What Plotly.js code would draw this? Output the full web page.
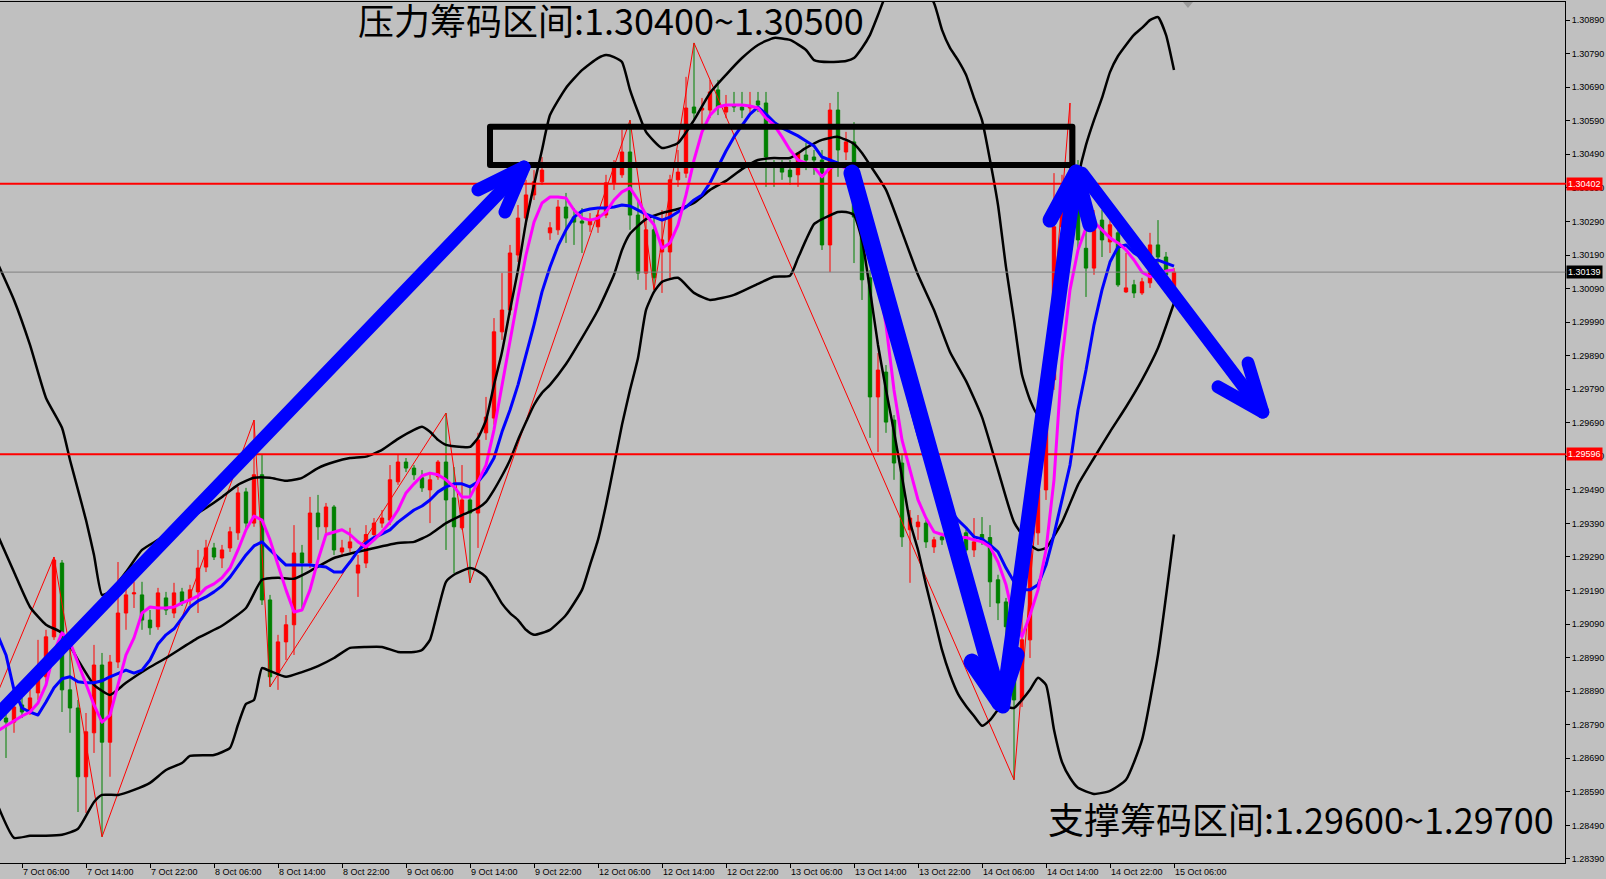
<!DOCTYPE html>
<html>
<head>
<meta charset="utf-8">
<script src="https://cdn.plot.ly/plotly-3.0.1.min.js"></script>
<style>
  html, body { margin: 0; padding: 0; background: #c0c0c0; }
  #chart { width: 1606px; height: 879px; }
  .shapelayer path { stroke-linejoin: round; stroke-linecap: round; }
  .scatterlayer .js-line { stroke-linejoin: round; }
</style>
</head>
<body>
<div id="chart"></div>
<script>
// ---- GBPUSD H1 candles (bar 0 = 7 Oct 04:00, bar 146 = 15 Oct 06:00) ----
const openP = [
1.28810,1.28798,1.28849,1.28834,1.28885,1.28933,1.29052,1.29272,1.28894,1.28840,
1.28635,1.28766,1.28968,1.28738,1.28977,1.29123,1.29180,1.29177,1.29102,1.29082,
1.29168,1.29123,1.29186,1.29162,1.29186,1.29260,1.29317,1.29287,1.29317,1.29362,
1.29484,1.29391,1.29535,1.29162,1.28944,1.29037,1.29088,1.29302,1.29272,1.29421,
1.29380,1.29439,1.29305,1.29317,1.29242,1.29272,1.29357,1.29391,1.29400,1.29514,
1.29573,1.29555,1.29526,1.29490,1.29529,1.29573,1.29466,1.29377,1.29460,1.29421,
1.29660,1.29704,1.29961,1.30026,1.30190,1.30300,1.30369,1.30408,1.30256,1.30265,
1.30333,1.30303,1.30291,1.30280,1.30274,1.30309,1.30405,1.30429,1.30497,1.30309,
1.30136,1.30265,1.30199,1.30199,1.30414,1.30434,1.30631,1.30622,1.30622,1.30682,
1.30616,1.30637,1.30631,1.30628,1.30649,1.30643,1.30464,1.30450,1.30443,1.30429,
1.30488,1.30482,1.30473,1.30220,1.30622,1.30497,1.30527,1.30303,1.30122,1.29767,
1.29841,1.29698,1.29570,1.29371,1.29380,1.29391,1.29320,1.29350,1.29348,1.29332,
1.29362,1.29311,1.29357,1.29348,1.29222,1.29156,1.29082,1.28864,1.29043,1.29362,
1.29490,1.29818,1.30274,1.30354,1.30414,1.30210,1.30151,1.30294,1.30229,1.30256,
1.30080,1.30101,1.30077,1.30107,1.30220,1.30184,1.30095];
const highP = [
1.28825,1.28864,1.28870,1.28894,1.29043,1.29073,1.29290,1.29281,1.29022,1.28864,
1.28825,1.29028,1.29004,1.28998,1.29275,1.29198,1.29216,1.29216,1.29132,1.29198,
1.29186,1.29213,1.29198,1.29207,1.29311,1.29341,1.29332,1.29326,1.29380,1.29499,
1.29496,1.29698,1.29594,1.29177,1.29058,1.29117,1.29385,1.29326,1.29469,1.29475,
1.29451,1.29445,1.29341,1.29377,1.29296,1.29385,1.29406,1.29430,1.29564,1.29594,
1.29585,1.29564,1.29549,1.29543,1.29579,1.29719,1.29558,1.29564,1.29505,1.29660,
1.29767,1.30002,1.30136,1.30220,1.30339,1.30414,1.30443,1.30482,1.30288,1.30354,
1.30375,1.30330,1.30330,1.30315,1.30324,1.30429,1.30473,1.30563,1.30592,1.30354,
1.30309,1.30309,1.30324,1.30429,1.30503,1.30721,1.30822,1.30658,1.30712,1.30712,
1.30667,1.30676,1.30676,1.30676,1.30676,1.30676,1.30473,1.30473,1.30473,1.30473,
1.30524,1.30503,1.30503,1.30643,1.30676,1.30557,1.30586,1.30339,1.30145,1.29898,
1.29862,1.29713,1.29594,1.29430,1.29415,1.29400,1.29350,1.29362,1.29357,1.29357,
1.29371,1.29406,1.29409,1.29385,1.29237,1.29168,1.29102,1.29153,1.29400,1.29505,
1.29833,1.30434,1.30429,1.30643,1.30473,1.30324,1.30324,1.30324,1.30294,1.30280,
1.30196,1.30116,1.30122,1.30256,1.30294,1.30199,1.30151];
const lowP = [
1.28691,1.28766,1.28810,1.28819,1.28864,1.28918,1.29043,1.28828,1.28766,1.28530,
1.28527,1.28706,1.28456,1.28635,1.28959,1.29073,1.29138,1.29073,1.29058,1.29073,
1.29117,1.29108,1.29144,1.29147,1.29123,1.29245,1.29281,1.29257,1.29305,1.29341,
1.29371,1.29380,1.29147,1.28903,1.28894,1.28983,1.28998,1.29132,1.29257,1.29341,
1.29357,1.29296,1.29290,1.29305,1.29171,1.29257,1.29341,1.29377,1.29385,1.29505,
1.29543,1.29520,1.29484,1.29391,1.29520,1.29311,1.29242,1.29371,1.29213,1.29317,
1.29639,1.29684,1.29937,1.30011,1.30169,1.30280,1.30354,1.30399,1.30235,1.30250,
1.30226,1.30220,1.30196,1.30259,1.30256,1.30300,1.30384,1.30420,1.30265,1.30116,
1.30086,1.30086,1.30077,1.30116,1.30393,1.30420,1.30592,1.30578,1.30598,1.30607,
1.30598,1.30616,1.30598,1.30607,1.30616,1.30393,1.30393,1.30414,1.30399,1.30393,
1.30443,1.30429,1.30205,1.30139,1.30423,1.30473,1.30166,1.30056,1.29645,1.29603,
1.29660,1.29520,1.29320,1.29213,1.29341,1.29317,1.29302,1.29326,1.29326,1.29317,
1.29305,1.29290,1.29326,1.29141,1.29102,1.29043,1.28626,1.28843,1.28989,1.29326,
1.29460,1.29788,1.30250,1.30309,1.30205,1.30065,1.30131,1.30184,1.30196,1.30095,
1.30077,1.30062,1.30071,1.30092,1.30125,1.30116,1.30086];
const closeP = [
1.28798,1.28843,1.28828,1.28870,1.28933,1.29052,1.29281,1.28894,1.28840,1.28635,
1.28769,1.28968,1.28738,1.28977,1.29123,1.29177,1.29183,1.29102,1.29079,1.29183,
1.29132,1.29183,1.29153,1.29192,1.29257,1.29317,1.29290,1.29311,1.29365,1.29481,
1.29391,1.29535,1.29162,1.28933,1.29037,1.29088,1.29302,1.29272,1.29421,1.29380,
1.29439,1.29311,1.29317,1.29335,1.29266,1.29357,1.29391,1.29406,1.29520,1.29573,
1.29555,1.29535,1.29496,1.29520,1.29573,1.29460,1.29380,1.29460,1.29421,1.29639,
1.29707,1.29961,1.30026,1.30196,1.30300,1.30369,1.30408,1.30443,1.30271,1.30333,
1.30300,1.30288,1.30285,1.30291,1.30309,1.30405,1.30452,1.30497,1.30309,1.30136,
1.30265,1.30122,1.30235,1.30414,1.30437,1.30628,1.30613,1.30628,1.30676,1.30631,
1.30631,1.30631,1.30622,1.30634,1.30637,1.30482,1.30455,1.30437,1.30423,1.30494,
1.30473,1.30473,1.30220,1.30622,1.30503,1.30527,1.30303,1.30116,1.29767,1.29847,
1.29692,1.29570,1.29350,1.29406,1.29394,1.29335,1.29341,1.29341,1.29338,1.29341,
1.29311,1.29335,1.29341,1.29216,1.29153,1.29082,1.28864,1.29043,1.29362,1.29490,
1.29818,1.30274,1.30354,1.30414,1.30235,1.30151,1.30288,1.30235,1.30280,1.30101,
1.30092,1.30077,1.30110,1.30220,1.30184,1.30131,1.30139];

// ---- moving averages, one value per bar from bar -1 to bar 146 ----
const maFast = [
1.28772,1.28787,1.28801,1.28816,1.28828,1.28855,1.28909,1.29007,1.29064,1.29037,
1.28974,1.28909,1.28849,1.28798,1.28819,1.28909,1.28998,1.29049,1.29123,1.29141,
1.29138,1.29138,1.29141,1.29153,1.29162,1.29174,1.29198,1.29210,1.29228,1.29257,
1.29311,1.29371,1.29412,1.29400,1.29341,1.29266,1.29192,1.29126,1.29132,1.29192,
1.29281,1.29357,1.29365,1.29371,1.29357,1.29335,1.29320,1.29341,1.29365,1.29394,
1.29430,1.29481,1.29508,1.29532,1.29540,1.29535,1.29520,1.29499,1.29469,1.29469,
1.29514,1.29564,1.29669,1.29803,1.29937,1.30065,1.30190,1.30288,1.30345,1.30363,
1.30363,1.30360,1.30324,1.30300,1.30294,1.30300,1.30318,1.30354,1.30378,1.30390,
1.30354,1.30309,1.30280,1.30210,1.30226,1.30280,1.30369,1.30473,1.30557,1.30607,
1.30631,1.30637,1.30637,1.30637,1.30634,1.30628,1.30598,1.30578,1.30542,1.30503,
1.30473,1.30464,1.30452,1.30423,1.30450,1.30458,1.30450,1.30414,1.30324,1.30220,
1.30116,1.29982,1.29788,1.29639,1.29549,1.29460,1.29406,1.29365,1.29357,1.29350,
1.29348,1.29348,1.29341,1.29335,1.29320,1.29275,1.29207,1.29102,1.29052,1.29117,
1.29192,1.29311,1.29520,1.29877,1.30086,1.30205,1.30271,1.30288,1.30265,1.30241,
1.30226,1.30205,1.30175,1.30139,1.30125,1.30131,1.30142,1.30145];
const maSlow = [
1.29055,1.28998,1.28894,1.28840,1.28828,1.28819,1.28858,1.28900,1.28927,1.28933,
1.28918,1.28915,1.28915,1.28921,1.28933,1.28944,1.28953,1.28944,1.28953,1.28983,
1.29031,1.29058,1.29076,1.29108,1.29141,1.29159,1.29171,1.29186,1.29204,1.29230,
1.29263,1.29296,1.29323,1.29335,1.29311,1.29287,1.29266,1.29266,1.29266,1.29266,
1.29263,1.29260,1.29245,1.29245,1.29275,1.29308,1.29332,1.29348,1.29359,1.29371,
1.29394,1.29412,1.29430,1.29442,1.29460,1.29484,1.29499,1.29508,1.29508,1.29499,
1.29514,1.29543,1.29585,1.29663,1.29728,1.29803,1.29892,1.29982,1.30080,1.30154,
1.30217,1.30265,1.30303,1.30321,1.30327,1.30330,1.30330,1.30333,1.30339,1.30336,
1.30324,1.30312,1.30303,1.30294,1.30303,1.30318,1.30333,1.30354,1.30369,1.30405,
1.30452,1.30500,1.30542,1.30578,1.30610,1.30631,1.30610,1.30586,1.30569,1.30557,
1.30545,1.30530,1.30515,1.30482,1.30473,1.30464,1.30450,1.30420,1.30369,1.30294,
1.30205,1.30086,1.29967,1.29847,1.29743,1.29654,1.29579,1.29520,1.29469,1.29430,
1.29400,1.29377,1.29350,1.29344,1.29326,1.29305,1.29257,1.29216,1.29192,1.29192,
1.29207,1.29266,1.29357,1.29460,1.29564,1.29728,1.29847,1.29982,1.30086,1.30169,
1.30214,1.30220,1.30196,1.30181,1.30169,1.30175,1.30166,1.30157];

// ---- Bollinger bands (read at the listed bars) ----
const bbMidBars = [-1,1,3,5,7,9,11,13,15,18,20,24,27,30,32,34,36,38,41,45,49,51,53,55,57,59,60,61,62,63,64,65,66,67,68,70,72,74,76,77,78,80,82,84,86,88,90,92,94,96,98,100,102,104,106,107,108,110,112,114,116,118,120,122,124,126,128,129,130,132,134,136,138,140,142,144,146];
const bbMid = [1.29353,1.29245,1.29141,1.29088,1.29064,1.28983,1.28909,1.28879,1.28915,1.28962,1.28989,1.29049,1.29085,1.29138,1.29222,1.29228,1.29225,1.29248,1.29287,1.29311,1.29332,1.29335,1.29357,1.29391,1.29415,1.29436,1.29454,1.29490,1.29532,1.29579,1.29639,1.29692,1.29743,1.29779,1.29803,1.29865,1.29943,1.30026,1.30131,1.30205,1.30253,1.30297,1.30315,1.30327,1.30345,1.30384,1.30411,1.30446,1.30473,1.30479,1.30479,1.30509,1.30533,1.30542,1.30521,1.30494,1.30458,1.30384,1.30259,1.30131,1.30026,1.29901,1.29815,1.29707,1.29549,1.29394,1.29326,1.29311,1.29317,1.29394,1.29505,1.29585,1.29663,1.29737,1.29818,1.29913,1.30047];
const bbUpBars = [-1,1,3,5,7,8,9,10,11,12,13,15,17,19,21,23,25,27,29,31,33,35,37,39,41,43,45,47,49,51,52,53,54,55,57,58,59,60,61,62,63,64,65,66,67,68,70,72,74,75,76,77,78,79,80,82,84,86,88,90,92,94,96,98,100,101,103,105,106,107,108,109,110,112,114,116,117,118,119,120,121,122,123,124,125,126,127,128,129,130,131,132,133,134,135,136,137,138,139,140,141,142,143,144,145,146];
const bbUp = [1.30163,1.30056,1.29922,1.29764,1.29675,1.29579,1.29490,1.29400,1.29296,1.29177,1.29186,1.29245,1.29311,1.29341,1.29371,1.29406,1.29436,1.29469,1.29505,1.29526,1.29526,1.29517,1.29526,1.29555,1.29573,1.29585,1.29589,1.29609,1.29642,1.29669,1.29678,1.29663,1.29639,1.29624,1.29618,1.29618,1.29645,1.29698,1.29803,1.29901,1.30026,1.30145,1.30288,1.30399,1.30503,1.30607,1.30688,1.30741,1.30777,1.30786,1.30780,1.30765,1.30682,1.30616,1.30557,1.30509,1.30524,1.30592,1.30673,1.30727,1.30777,1.30816,1.30837,1.30831,1.30801,1.30771,1.30765,1.30768,1.30777,1.30807,1.30846,1.30905,1.30965,1.31025,1.31010,1.30941,1.30861,1.30807,1.30771,1.30727,1.30658,1.30592,1.30473,1.30339,1.30154,1.29996,1.29833,1.29758,1.29713,1.29728,1.29922,1.30101,1.30280,1.30420,1.30518,1.30592,1.30658,1.30735,1.30783,1.30816,1.30846,1.30867,1.30890,1.30899,1.30846,1.30741];
const bbLowBars = [-1,1,3,5,7,9,11,12,14,16,18,20,22,23,26,28,29,30,31,32,33,35,37,39,41,43,45,47,49,51,52,53,54,55,56,58,59,60,61,62,63,64,65,66,68,70,72,73,74,75,76,77,78,79,80,81,82,84,86,88,91,94,96,98,99,100,101,102,104,105,106,107,108,109,110,111,112,113,114,115,116,117,118,119,120,121,122,123,124,125,126,127,128,129,130,131,132,133,134,136,138,140,142,144,146];
const bbLow = [1.28548,1.28453,1.28459,1.28459,1.28462,1.28480,1.28560,1.28581,1.28581,1.28596,1.28617,1.28655,1.28676,1.28697,1.28700,1.28721,1.28790,1.28852,1.28864,1.28959,1.28950,1.28933,1.28947,1.28965,1.28989,1.29019,1.29022,1.29022,1.29007,1.29007,1.29013,1.29043,1.29132,1.29216,1.29237,1.29257,1.29248,1.29230,1.29192,1.29151,1.29123,1.29102,1.29073,1.29058,1.29073,1.29117,1.29192,1.29266,1.29341,1.29445,1.29564,1.29684,1.29788,1.29883,1.30026,1.30080,1.30110,1.30122,1.30077,1.30056,1.30071,1.30104,1.30125,1.30128,1.30181,1.30235,1.30282,1.30297,1.30318,1.30318,1.30309,1.30235,1.30086,1.29922,1.29788,1.29663,1.29529,1.29394,1.29311,1.29207,1.29111,1.29013,1.28939,1.28882,1.28846,1.28816,1.28787,1.28804,1.28834,1.28843,1.28840,1.28864,1.28894,1.28930,1.28909,1.28775,1.28679,1.28632,1.28602,1.28584,1.28593,1.28626,1.28745,1.28998,1.29357];

// ---- ZigZag swing points ----
const zzBars = [-1,6,12,31,33,55,58,78,81,86,126,133];
const zzPrice = [1.28888,1.29290,1.28456,1.29698,1.28903,1.29719,1.29213,1.30592,1.30086,1.30822,1.28626,1.30643];

// ---- levels and labels ----
const resistLine = 1.30402, supportLine = 1.29596, bidPrice = 1.30139;
const zoneBox = {barFrom: 60.5, barTo: 133.3, low: 1.30458, high: 1.30572};
const tickBars = [2,10,18,26,34,42,50,58,66,74,82,90,98,106,114,122,130,138,146];
const tickLabels = ['7 Oct 06:00','7 Oct 14:00','7 Oct 22:00','8 Oct 06:00','8 Oct 14:00','8 Oct 22:00','9 Oct 06:00','9 Oct 14:00','9 Oct 22:00','12 Oct 06:00','12 Oct 14:00','12 Oct 22:00','13 Oct 06:00','13 Oct 14:00','13 Oct 22:00','14 Oct 06:00','14 Oct 14:00','14 Oct 22:00','15 Oct 06:00'];
const topText = '压力筹码区间:1.30400~1.30500';
const bottomText = '支撑筹码区间:1.29600~1.29700';

// hand-drawn arrows: [bar, price] of tail, tip, and the two head arms
const arrows = [
  {tail:[-3.25,1.28766], tip:[64.75,1.30452], arm1:[59.0,1.30384], arm2:[62.375,1.30318], w:13},
  {tail:[105.75,1.30434], tip:[124.25,1.28855], arm1:[120.75,1.28977], arm2:[126.25,1.28998], w:17},
  {tail:[124.6,1.28846], tip:[133.75,1.30437], arm1:[130.5,1.30294], arm2:[135.5,1.30280], w:15},
  {tail:[134.5,1.30434], tip:[157.1,1.29722], arm1:[151.5,1.29797], arm2:[155.25,1.29868], w:13}
];

const bars = openP.map((_, i) => i);
const maBars = maFast.map((_, k) => k - 1);

const traces = [
  {type:'candlestick', x:bars, open:openP, high:highP, low:lowP, close:closeP,
   increasing:{line:{color:'#ff0000', width:1}, fillcolor:'#ff0000'},
   decreasing:{line:{color:'#008000', width:1}, fillcolor:'#008000'},
   whiskerwidth:0, hoverinfo:'skip', showlegend:false},
  {type:'scatter', mode:'lines', x:zzBars, y:zzPrice, line:{color:'#ff0000', width:1}, hoverinfo:'skip', showlegend:false},
  {type:'scatter', mode:'lines', x:bbUpBars, y:bbUp, line:{color:'#000000', width:2.5, shape:'spline', smoothing:0.5}, hoverinfo:'skip', showlegend:false},
  {type:'scatter', mode:'lines', x:bbMidBars, y:bbMid, line:{color:'#000000', width:2.5, shape:'spline', smoothing:0.5}, hoverinfo:'skip', showlegend:false},
  {type:'scatter', mode:'lines', x:bbLowBars, y:bbLow, line:{color:'#000000', width:2.5, shape:'spline', smoothing:0.5}, hoverinfo:'skip', showlegend:false},
  {type:'scatter', mode:'lines', x:maBars, y:maSlow, line:{color:'#0000ff', width:3}, hoverinfo:'skip', showlegend:false},
  {type:'scatter', mode:'lines', x:maBars, y:maFast, line:{color:'#ff00ff', width:3}, hoverinfo:'skip', showlegend:false}
];

const shapes = [
  {type:'line', xref:'paper', x0:0, x1:1, yref:'y', y0:bidPrice, y1:bidPrice, line:{color:'#808080', width:1}},
  {type:'line', xref:'paper', x0:0, x1:1, yref:'y', y0:resistLine, y1:resistLine, line:{color:'#ff0000', width:2}},
  {type:'line', xref:'paper', x0:0, x1:1, yref:'y', y0:supportLine, y1:supportLine, line:{color:'#ff0000', width:2}},
  {type:'rect', xref:'x', yref:'y', x0:zoneBox.barFrom, x1:zoneBox.barTo, y0:zoneBox.low, y1:zoneBox.high, line:{color:'#000000', width:6}, fillcolor:'rgba(0,0,0,0)'},
  {type:'path', xref:'paper', yref:'paper', path:'M 0.7559,1 L 0.7623,1 L 0.7591,0.993 Z', fillcolor:'#9a9a9a', line:{width:0}}
];
arrows.forEach(a => {
  shapes.push({type:'path', xref:'x', yref:'y',
    path:`M ${a.tail[0]},${a.tail[1]} L ${a.tip[0]},${a.tip[1]}`,
    line:{color:'#0000ff', width:a.w}});
  shapes.push({type:'path', xref:'x', yref:'y',
    path:`M ${a.arm1[0]},${a.arm1[1]} L ${a.tip[0]},${a.tip[1]} L ${a.arm2[0]},${a.arm2[1]}`,
    line:{color:'#0000ff', width:a.w}});
});

const tagFont = {family:'Liberation Sans, Arial, sans-serif', size:9, color:'#ffffff'};
const annotations = [
  {xref:'paper', yref:'paper', x:0.3901, y:0.9808, xanchor:'center', yanchor:'middle', text:topText, showarrow:false,
   font:{family:'Noto Sans CJK SC, sans-serif', size:36, color:'#000000'}},
  {xref:'paper', yref:'paper', x:0.8312, y:0.0523, xanchor:'center', yanchor:'middle', text:bottomText, showarrow:false,
   font:{family:'Noto Sans CJK SC, sans-serif', size:36, color:'#000000'}},
  {xref:'paper', yref:'y', x:1, y:resistLine, xanchor:'left', yanchor:'middle', xshift:1, text:resistLine.toFixed(5), showarrow:false, bgcolor:'#ff0000', font:tagFont, borderpad:1},
  {xref:'paper', yref:'y', x:1, y:supportLine, xanchor:'left', yanchor:'middle', xshift:1, text:supportLine.toFixed(5), showarrow:false, bgcolor:'#ff0000', font:tagFont, borderpad:1},
  {xref:'paper', yref:'y', x:1, y:bidPrice, xanchor:'left', yanchor:'middle', xshift:1, text:bidPrice.toFixed(5), showarrow:false, bgcolor:'#000000', font:tagFont, borderpad:1}
];

const axisFont = {family:'Liberation Sans, Arial, sans-serif', size:9, color:'#000000'};
const layout = {
  width:1606, height:879, autosize:false,
  paper_bgcolor:'#c0c0c0', plot_bgcolor:'#c0c0c0',
  margin:{l:0, r:41, t:2, b:16, pad:0},
  showlegend:false,
  boxgap:0.4,
  xaxis:{range:[-0.75, 194.875], tickmode:'array', tickvals:tickBars, ticktext:tickLabels,
         ticks:'outside', ticklen:4, tickcolor:'#000000', tickfont:axisFont,
         ticklabelposition:'outside right',
         showline:true, mirror:true, linecolor:'#000000', linewidth:1,
         showgrid:false, zeroline:false, rangeslider:{visible:false}, fixedrange:true},
  yaxis:{range:[1.28378, 1.30944], side:'right', tick0:1.2839, dtick:0.001, tickformat:'.5f',
         ticks:'outside', ticklen:4, tickcolor:'#000000', tickfont:axisFont,
         showline:true, mirror:true, linecolor:'#000000', linewidth:1,
         showgrid:false, zeroline:false, fixedrange:true},
  shapes:shapes,
  annotations:annotations
};

Plotly.newPlot('chart', traces, layout, {displayModeBar:false, staticPlot:true});
</script>
</body>
</html>
